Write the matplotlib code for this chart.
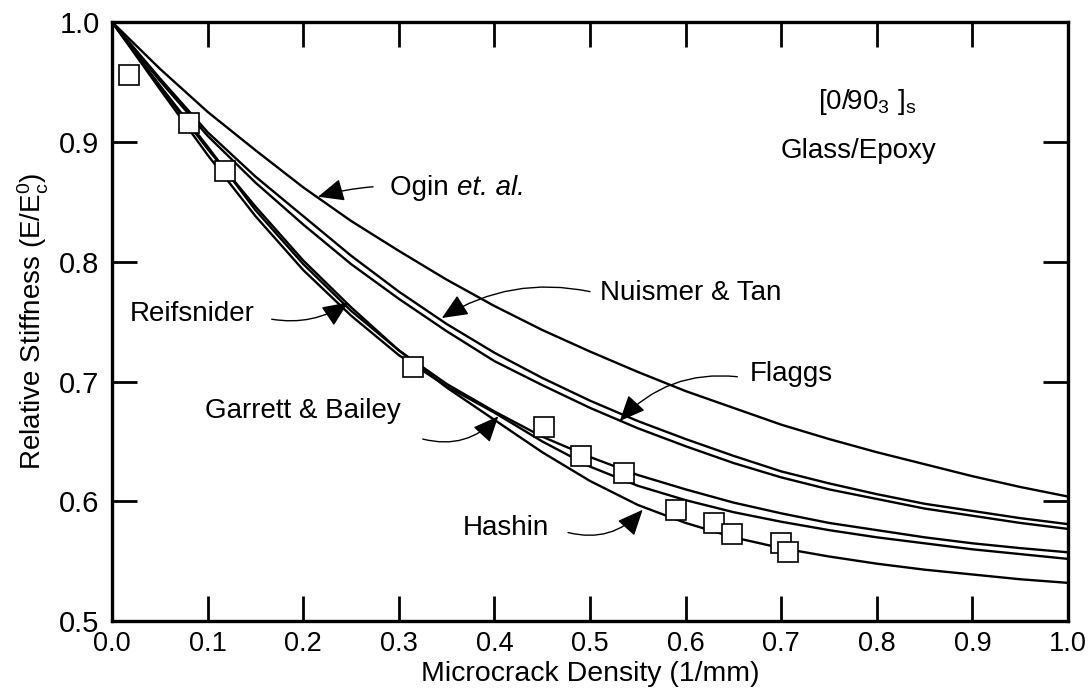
import numpy as np
import matplotlib
matplotlib.use("Agg")
import matplotlib.pyplot as plt

plt.rcParams['font.family'] = ['Liberation Sans', 'DejaVu Sans']
plt.rcParams['mathtext.fontset'] = 'custom'
plt.rcParams['mathtext.rm'] = 'Liberation Sans'
plt.rcParams['mathtext.it'] = 'Liberation Sans:italic'

# Model curves (relative stiffness vs crack density)
density = [0.0, 0.05, 0.1, 0.15, 0.2, 0.25, 0.3, 0.35, 0.4, 0.45, 0.5,
           0.55, 0.6, 0.65, 0.7, 0.75, 0.8, 0.85, 0.9, 0.95, 1.0]
ogin = [1.0, 0.961, 0.925, 0.893, 0.862, 0.834, 0.809, 0.785, 0.763, 0.743, 0.725,
        0.708, 0.692, 0.678, 0.664, 0.652, 0.641, 0.631, 0.621, 0.612, 0.604]
nuismer_tan = [1.0, 0.953, 0.908, 0.871, 0.838, 0.805, 0.775, 0.748, 0.724, 0.703, 0.684,
               0.667, 0.652, 0.638, 0.625, 0.615, 0.606, 0.598, 0.592, 0.586, 0.581]
flaggs = [1.0, 0.951, 0.905, 0.866, 0.831, 0.798, 0.769, 0.742, 0.717, 0.697, 0.678,
          0.661, 0.646, 0.632, 0.620, 0.610, 0.602, 0.594, 0.588, 0.582, 0.577]
garrett_bailey = [1.0, 0.947, 0.896, 0.843, 0.798, 0.759, 0.726, 0.698, 0.675, 0.654, 0.637,
                  0.622, 0.610, 0.599, 0.590, 0.582, 0.576, 0.570, 0.565, 0.561, 0.5575]
reifsnider = [1.0, 0.944, 0.889, 0.838, 0.793, 0.755, 0.722, 0.696, 0.674, 0.650, 0.629,
              0.613, 0.601, 0.591, 0.583, 0.576, 0.570, 0.565, 0.560, 0.556, 0.552]
hashin = [1.0, 0.946, 0.894, 0.846, 0.801, 0.762, 0.726, 0.695, 0.668, 0.641, 0.617,
          0.597, 0.582, 0.570, 0.561, 0.554, 0.548, 0.543, 0.539, 0.535, 0.532]

# Experimental points
exp_x = [0.018, 0.08, 0.118, 0.315, 0.452, 0.49, 0.535, 0.59, 0.63, 0.648, 0.70, 0.707]
exp_y = [0.956, 0.916, 0.876, 0.712, 0.662, 0.638, 0.624, 0.593, 0.582, 0.573, 0.565, 0.558]

fig = plt.figure(figsize=(10.91, 6.98), dpi=100)
ax = fig.add_axes([0.1027, 0.110, 0.8763, 0.8585])

for curve in [ogin, nuismer_tan, flaggs, garrett_bailey, reifsnider, hashin]:
    ax.plot(density, curve, color='black', lw=1.7, zorder=2)

ax.plot(exp_x, exp_y, linestyle='none', marker='s', markersize=14.5,
        markerfacecolor='white', markeredgecolor='black', markeredgewidth=1.2, zorder=3)

ax.set_xlim(0, 1)
ax.set_ylim(0.5, 1.0)
ticks_x = np.arange(0, 1.01, 0.1)
ticks_y = np.arange(0.5, 1.01, 0.1)
ax.set_xticks(ticks_x)
ax.set_yticks(ticks_y)
ax.set_xticklabels([f'{v:.1f}' for v in ticks_x])
ax.set_yticklabels([f'{v:.1f}' for v in ticks_y])
ax.tick_params(direction='in', length=18, width=2, labelsize=19.5, top=True, right=True, pad=7)
ax.tick_params(axis='y', labelsize=21, pad=9)
for s in ax.spines.values():
    s.set_linewidth(2.4)

ax.set_xlabel('Microcrack Density (1/mm)', fontsize=20.5, labelpad=3)
ax.set_ylabel(r'Relative Stiffness (E/E$_\mathregular{c}^\mathregular{0}$)', fontsize=20, labelpad=6)

head = '-|>,head_length=0.8,head_width=0.35'


def arrow(tail, tip, rad):
    ax.annotate('', xy=tip, xytext=tail,
                arrowprops=dict(arrowstyle=head, color='black', lw=1.0, mutation_scale=20,
                                shrinkA=0, shrinkB=0, connectionstyle=f'arc3,rad={rad}'))


def label(text, pos, tail, tip, rad):
    t = ax.text(pos[0], pos[1], text, fontsize=20, ha='left', va='center')
    arrow(tail, tip, rad)
    return t


t = label('Ogin ', (0.291, 0.8617), (0.273, 0.8625), (0.2155, 0.8542), 0.05)
ax.annotate('et. al.', xy=(1, 0), xycoords=t, va='bottom', ha='left',
            fontsize=20, style='italic')
label('Nuismer & Tan', (0.5105, 0.774), (0.500, 0.775), (0.345, 0.753), 0.2)
label('Flaggs', (0.667, 0.706), (0.654, 0.704), (0.531, 0.667), 0.25)
label('Reifsnider', (0.0188, 0.756), (0.167, 0.752), (0.247, 0.766), 0.2)
label('Garrett & Bailey', (0.097, 0.675), (0.325, 0.652), (0.404, 0.671), 0.3)
label('Hashin', (0.367, 0.578), (0.477, 0.574), (0.555, 0.593), 0.3)

ax.text(0.790, 0.933, r'[0/90$_\mathregular{3}$ ]$_\mathregular{s}$', fontsize=20, ha='center', va='center')
ax.text(0.781, 0.892, 'Glass/Epoxy', fontsize=20, ha='center', va='center')

fig.savefig('out.png', dpi=100)
